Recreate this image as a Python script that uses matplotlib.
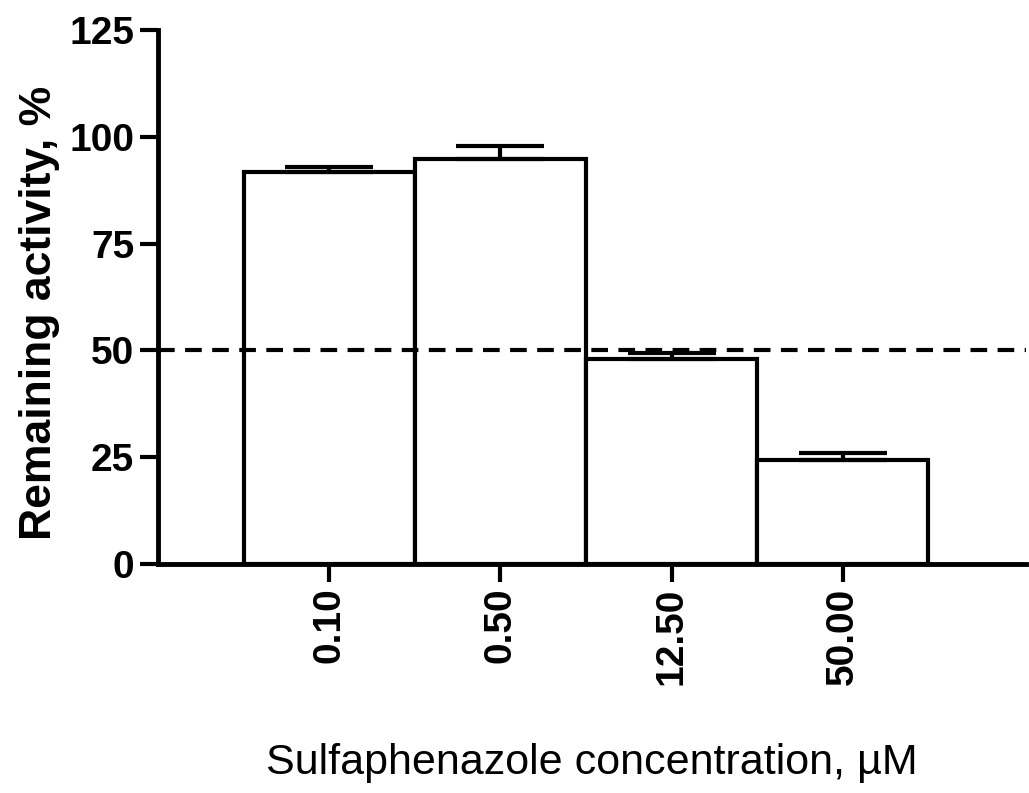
import matplotlib
matplotlib.use("Agg")
import matplotlib.pyplot as plt
import numpy as np

categories = ["0.10", "0.50", "12.50", "50.00"]
means = [91.8, 94.8, 47.9, 24.3]
errors = [1.2, 3.0, 1.4, 1.8]
reference_line = 50
yticks = [0, 25, 50, 75, 100, 125]

plt.rcParams['font.family'] = ['Liberation Sans', 'DejaVu Sans']

fig = plt.figure(figsize=(10.29, 7.93), dpi=100)
ax = fig.add_axes([0.1535, 0.2888, 0.8435, 0.6732])

x = np.arange(len(categories))
ax.bar(x, means, width=1.0, color='white', edgecolor='black', linewidth=3, zorder=2)
ax.errorbar(x, means, yerr=[[0] * len(means), errors], fmt='none', ecolor='black',
            elinewidth=3, capsize=32, capthick=3, zorder=3)
ax.axhline(reference_line, color='black', linestyle=(0, (4, 2.5)), linewidth=3, zorder=4)

ax.set_xlim(-1.0, 4.07)
ax.set_ylim(0, 125)
ax.set_yticks(yticks)
ax.set_yticklabels([str(v) for v in yticks], fontsize=28, fontweight='bold')
ax.set_xticks(x)
ax.set_xticklabels(categories, rotation=90, fontsize=28, fontweight='bold')

for s in ['top', 'right']:
    ax.spines[s].set_visible(False)
ax.spines['left'].set_linewidth(3.5)
ax.spines['bottom'].set_linewidth(3.5)
ax.tick_params(axis='both', direction='out', length=13, width=3, pad=4)

ax.set_ylabel("Remaining activity, %", fontsize=32, fontweight='bold')
ax.yaxis.set_label_coords(-0.113, 0.47)
ax.set_xlabel("Sulfaphenazole concentration, µM", fontsize=31)
ax.xaxis.set_label_coords(0.5, -0.335)

fig.savefig("out.png", dpi=100)
